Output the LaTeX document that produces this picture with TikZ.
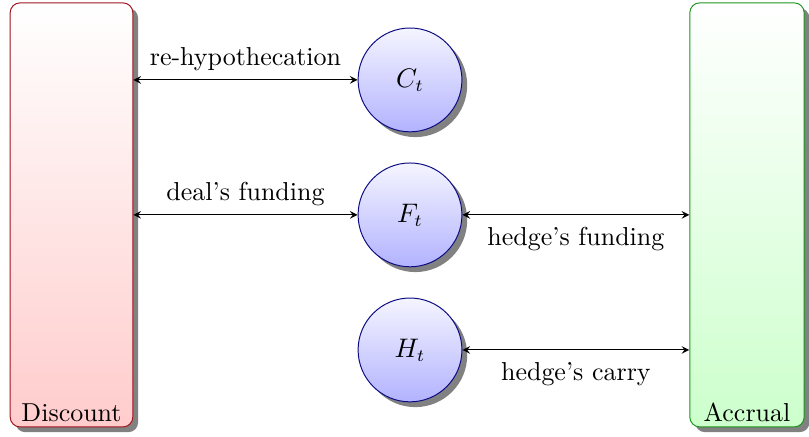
\documentclass[tikz,border=0pt]{standalone}
\usepackage{xcolor}
\definecolor{discred}{RGB}{160,20,30}
\definecolor{accgreen}{RGB}{30,150,30}
\definecolor{ballblue}{RGB}{10,10,130}
\usepackage{tikz}
\usetikzlibrary{shadows,arrows}

\begin{document}
\begin{tikzpicture}[>=stealth,font=\fontsize{10.6}{12.7}\selectfont,
    account/.style={rectangle,rounded corners=4pt,minimum width=17.6mm,minimum height=60.85mm,
      drop shadow={fill=black!55,opacity=.9}},
    flow/.style={circle,draw=ballblue,top color=blue!4,bottom color=blue!30,minimum size=14.9mm,
      drop shadow={fill=black!55,opacity=.9}}]
    \useasboundingbox (0mm,0mm) rectangle (116.1mm,62.7mm);
    \node[account,draw=discred,top color=white,bottom color=red!20,
      label={[anchor=south,inner sep=2pt]south:Discount}] (discount) at (10.26mm,31.86mm) {};
    \node[account,minimum width=16.4mm,draw=accgreen,top color=white,bottom color=green!20,
      label={[anchor=south,inner sep=2pt]south:Accrual}] (accrual) at (107.2mm,31.86mm) {};
    \node[flow] (ct) at (58.84mm,51.23mm) {$C_t$};
    \node[flow] (ft) at (58.84mm,31.86mm) {$F_t$};
    \node[flow] (ht) at (58.84mm,12.48mm) {$H_t$};
    \draw[<->] (discount.east |- ct) -- node[above]{re-hypothecation} (ct.west);
    \draw[<->] (discount.east |- ft) -- node[above]{deal's funding} (ft.west);
    \draw[<->] (ft.east) -- node[below=1.5pt]{hedge's funding} (accrual.west |- ft);
    \draw[<->] (ht.east) -- node[below=1.5pt]{hedge's carry} (accrual.west |- ht);
  \end{tikzpicture}
\end{document}
